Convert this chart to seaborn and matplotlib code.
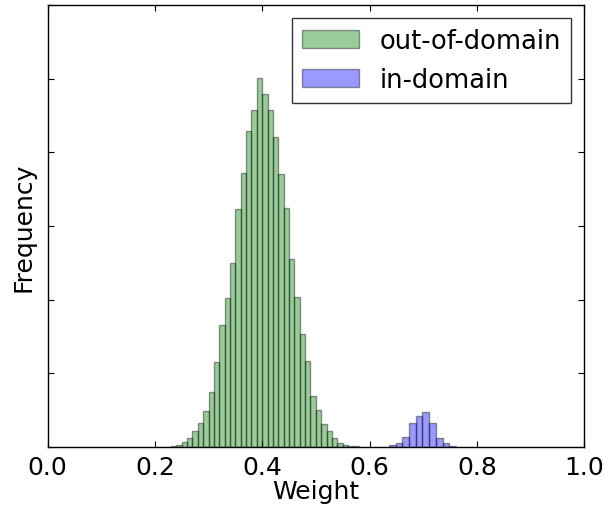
import matplotlib
matplotlib.use("Agg")
import matplotlib.pyplot as plt
import pandas as pd
import seaborn as sns

# out-of-domain histogram: bin edges (width 0.01) and counts
ood_edges = [round(0.22 + 0.01 * i, 3) for i in range(37)]
ood_counts = [4, 14, 31, 68, 122, 217, 326, 489, 746, 1153, 1656, 2022, 2497,
              3230, 3718, 4288, 4573, 5007, 4790, 4573, 4207, 3705, 3243, 2551,
              2036, 1533, 1167, 692, 502, 312, 217, 122, 58, 31, 14, 7]

# in-domain histogram: 10 bins between 0.636 and 0.761
ind_edges = [round(0.636 + 0.0125 * i, 4) for i in range(11)]
ind_counts = [23, 50, 136, 330, 417, 475, 326, 126, 54, 10]

x_ticks = [0.0, 0.2, 0.4, 0.6, 0.8, 1.0]
x_labels = ["0.0", "0.2", "0.4", "0.6", "0.8", "1.0"]
y_ticks = [0, 1000, 2000, 3000, 4000, 5000, 6000]

sns.set_style("white")
plt.rcParams.update({
    "font.family": ["DejaVu Sans"],
    "font.size": 18,
    "text.color": "black",
    "axes.labelcolor": "black",
    "xtick.color": "black",
    "ytick.color": "black",
    "xtick.direction": "in",
    "ytick.direction": "in",
    "xtick.top": True,
    "ytick.right": True,
    "xtick.bottom": True,
    "ytick.left": True,
    "xtick.major.size": 4,
    "ytick.major.size": 4,
    "xtick.major.pad": 6,
    "axes.edgecolor": "black",
    "axes.linewidth": 1.0,
})

ood = pd.DataFrame({
    "weight": [(a + b) / 2 for a, b in zip(ood_edges[:-1], ood_edges[1:])],
    "count": ood_counts,
})
ind = pd.DataFrame({
    "weight": [(a + b) / 2 for a, b in zip(ind_edges[:-1], ind_edges[1:])],
    "count": ind_counts,
})

fig = plt.figure(figsize=(6.03, 5.06), dpi=100)
ax = fig.add_axes([0.0788, 0.1146, 0.890, 0.8735])

edge = (0, 0, 0, 0.4)
sns.histplot(data=ood, x="weight", weights="count", bins=ood_edges, ax=ax,
             color="g", alpha=0.4, edgecolor=edge, linewidth=1,
             label="out-of-domain")
sns.histplot(data=ind, x="weight", weights="count", bins=ind_edges, ax=ax,
             color="b", alpha=0.4, edgecolor=edge, linewidth=1,
             label="in-domain")

ax.set_xlim(0, 1)
ax.set_ylim(0, 6000)
ax.set_xticks(x_ticks)
ax.set_xticklabels(x_labels, fontsize=18)
ax.set_yticks(y_ticks)
ax.set_yticklabels([])
ax.set_xlabel("Weight", fontsize=18, labelpad=0)
ax.set_ylabel("Frequency", fontsize=18, labelpad=5)
for s in ax.spines.values():
    s.set_visible(True)
    s.set_color("black")

leg = ax.legend(loc="upper right", fontsize=18.5, frameon=True, fancybox=False,
                borderaxespad=0.5, handlelength=2.2)
leg.get_frame().set_edgecolor("black")
leg.get_frame().set_linewidth(1.0)

fig.savefig("out.png", dpi=100)
plt.close(fig)
